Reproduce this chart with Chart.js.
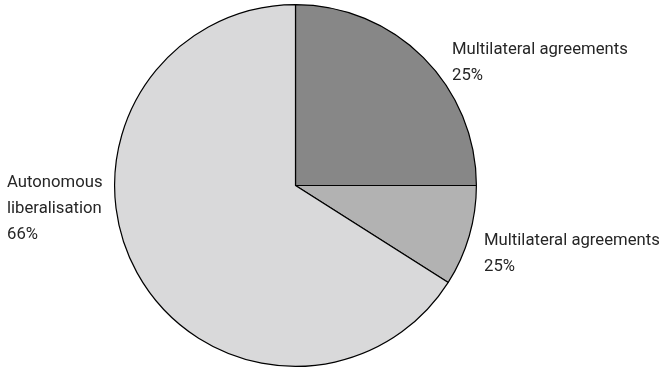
<!DOCTYPE html>
<html>
<head>
<meta charset="utf-8">
<script src="https://cdn.jsdelivr.net/npm/chart.js@4/dist/chart.umd.min.js"></script>
<style>
  html, body { margin: 0; padding: 0; background: #ffffff; }
  #wrap { width: 664px; height: 369px; position: relative; }
</style>
</head>
<body>
<div id="wrap"><canvas id="pie"></canvas></div>
<script>
// Shares of liberalisation by source (percent)
const categories = ["Multilateral agreements", "Multilateral agreements", "Autonomous liberalisation"];
const shares = [25, 9, 66];
// Label lines as printed next to each slice
const labelLines = [
  ["Multilateral agreements", "25%"],
  ["Multilateral agreements", "25%"],
  ["Autonomous", "liberalisation", "66%"]
];

const sliceColors = ["#878787", "#b2b2b2", "#d9d9da"];
// Text anchor (left x, first baseline y) for each label block
const labelAnchors = [
  { x: 452, y: 54 },
  { x: 484, y: 245 },
  { x: 7, y: 187 }
];
const lineHeight = 26;

const outsideLabels = {
  id: "outsideLabels",
  afterDraw(chart) {
    const ctx = chart.ctx;
    ctx.save();
    ctx.fillStyle = "#262626";
    ctx.font = "16.7px Roboto";
    ctx.textAlign = "left";
    ctx.textBaseline = "alphabetic";
    labelLines.forEach((lines, i) => {
      const a = labelAnchors[i];
      lines.forEach((t, j) => ctx.fillText(t, a.x, a.y + j * lineHeight));
    });
    ctx.restore();
  }
};

new Chart(document.getElementById("pie"), {
  type: "pie",
  data: {
    labels: categories,
    datasets: [{
      data: shares,
      backgroundColor: sliceColors,
      borderColor: "#000000",
      borderWidth: 1.2,
      hoverOffset: 0
    }]
  },
  options: {
    responsive: true,
    maintainAspectRatio: false,
    animation: false,
    layout: { padding: { left: 114, right: 187, top: 4, bottom: 2 } },
    plugins: {
      legend: { display: false },
      tooltip: { enabled: false },
      title: { display: false }
    }
  },
  plugins: [outsideLabels]
});
</script>
</body>
</html>
